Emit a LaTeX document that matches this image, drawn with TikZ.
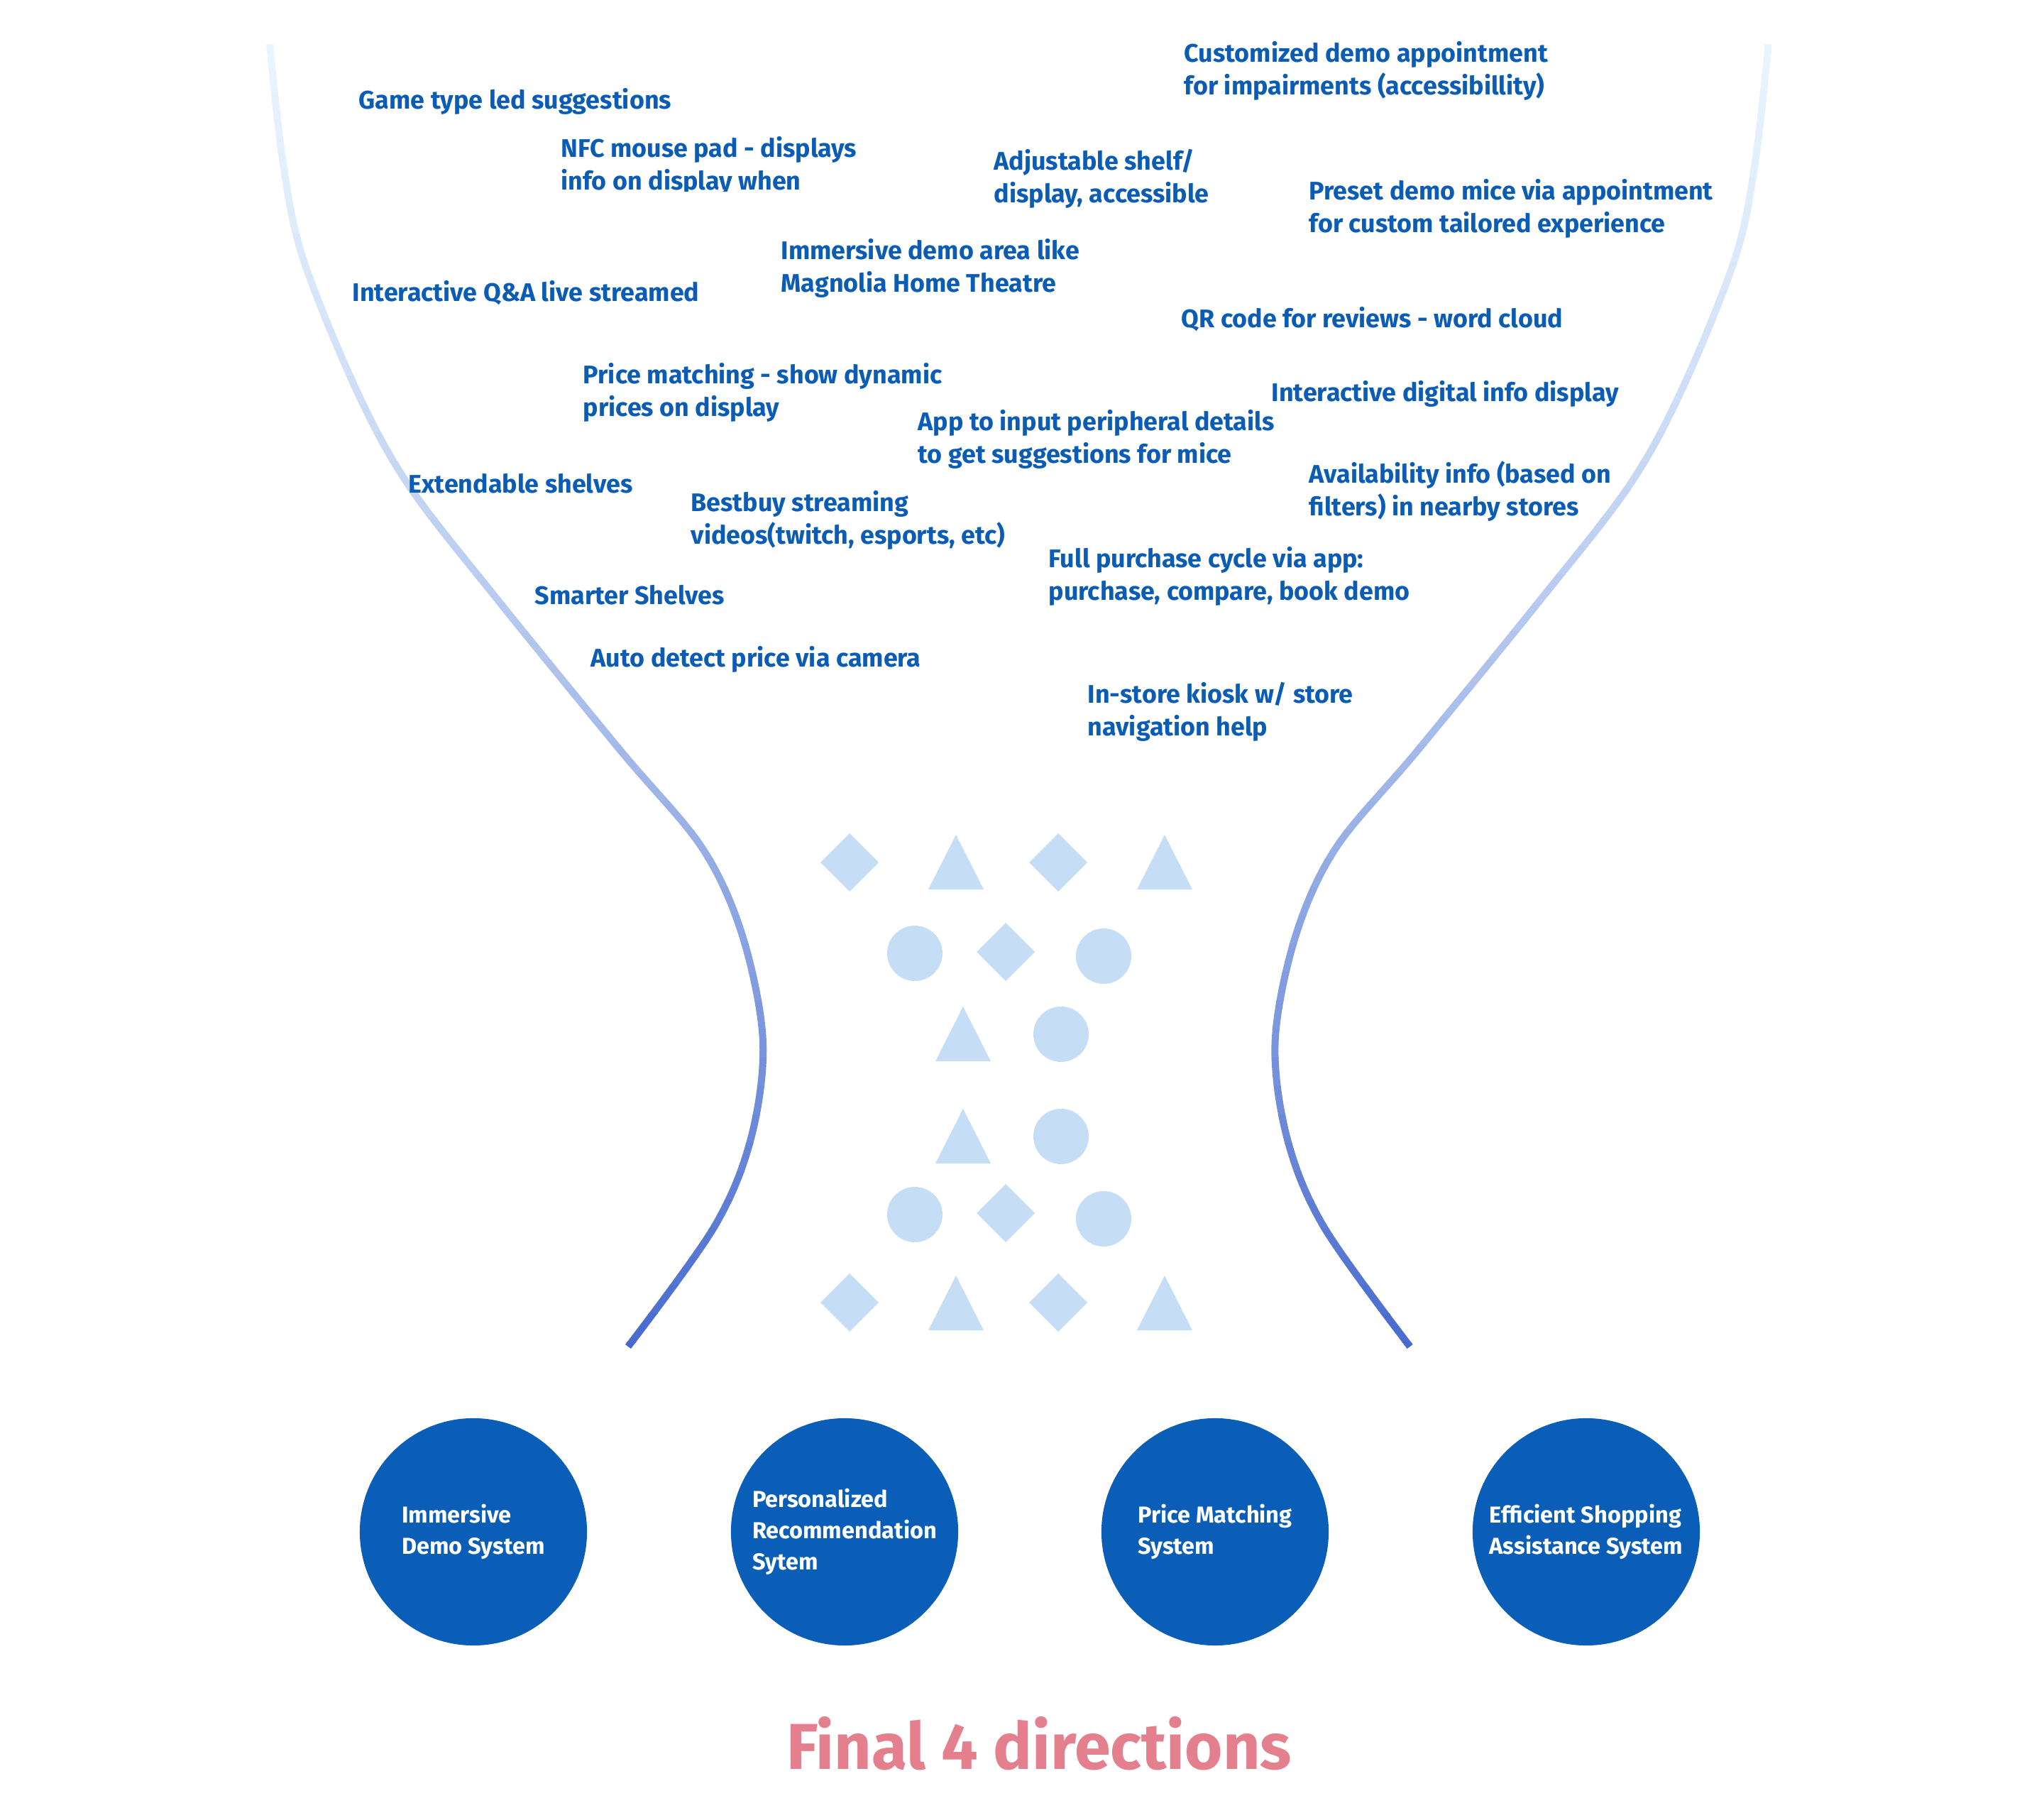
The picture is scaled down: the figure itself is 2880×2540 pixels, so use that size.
\documentclass[tikz,border=0pt]{standalone}
\usepackage{fontspec}
\setmainfont{Fira Sans}
\usetikzlibrary{positioning}

\definecolor{ideablue}{RGB}{11,92,181}
\definecolor{goalblue}{RGB}{10,94,183}
\definecolor{tokenblue}{RGB}{197,222,245}
\definecolor{headpink}{RGB}{228,128,141}

% left wall of the funnel, in pixels of the 2880x2540 page
\newcommand{\funnelpath}{plot[smooth, tension=0.55] coordinates {(380,62) (398,224) (426,361) (501,547) (576,684) (702,846) (874,1057) (989,1194) (1046,1318) (1075,1467) (1058,1604) (1006,1729) (885,1897)}}

\begin{document}
\begin{tikzpicture}[
    x=0.01cm, y=-0.01cm,
    idea/.style={anchor=west, inner sep=0, align=left, text=ideablue, font=\fontsize{10.2}{13}\selectfont\bfseries},
    goal/.style={circle, fill=goalblue, minimum size=3.2cm, inner sep=0, align=left, text=white, font=\fontsize{9.25}{12.5}\selectfont\bfseries},
    headline/.style={text=headpink, font=\fontsize{26}{32}\selectfont\bfseries},
    funnel/.style={line width=0.1cm},
    token/.style={fill=tokenblue}
  ]
    \useasboundingbox (0,0) rectangle (2880,2540);

    % funnel walls, shaded from top to bottom
    \foreach \i in {0,...,46}{
      \pgfmathsetmacro{\ya}{50+\i*40}
      \pgfmathsetmacro{\yb}{\ya+41}
      \pgfmathsetmacro{\t}{(\i/46)^1.4}
      \pgfmathtruncatemacro{\cr}{232-162*\t}
      \pgfmathtruncatemacro{\cg}{244-139*\t}
      \pgfmathtruncatemacro{\cb}{254-48*\t}
      \definecolor{band}{RGB}{\cr,\cg,\cb}
      \begin{scope}
        \clip (0,\ya) rectangle (2880,\yb);
        \draw[funnel, band] \funnelpath;
        \begin{scope}[xshift=28.7cm, xscale=-1]
          \draw[funnel, band] \funnelpath;
        \end{scope}
      \end{scope}
    }

    % ideas
    \node[idea] (game) at (505,143) {Game type led suggestions};
    \begin{scope}
      \clip (700,150) rectangle (1300,270);
      \node[idea] (nfc) at (790,234) {NFC mouse pad - displays\\info on display when};
    \end{scope}
    \node[idea] (custom) at (1668,100) {Customized demo appointment\\for impairments (accessibillity)};
    \node[idea] (shelf) at (1400,252) {Adjustable shelf/\\display, accessible};
    \node[idea] (preset) at (1844,294) {Preset demo mice via appointment\\for custom tailored experience};
    \node[idea] (area) at (1100,378) {Immersive demo area like\\Magnolia Home Theatre};
    \node[idea] (qa) at (496,413) {Interactive Q\&A live streamed};
    \node[idea] (qr) at (1664,450) {QR code for reviews - word cloud};
    \node[idea] (price) at (821,553) {Price matching - show dynamic\\prices on display};
    \node[idea] (digital) at (1791,555) {Interactive digital info display};
    \node[idea] (app) at (1293,619) {App to input peripheral details\\to get suggestions for mice};
    \node[idea] (extend) at (575,681) {Extendable shelves};
    \node[idea] (avail) at (1844,692) {Availability info (based on\\filters) in nearby stores};
    \node[idea] (stream) at (973,733) {Bestbuy streaming\\videos(twitch, esports, etc)};
    \node[idea] (cycle) at (1477,812) {Full purchase cycle via app:\\purchase, compare, book demo};
    \node[idea] (smart) at (753,838) {Smarter Shelves};
    \node[idea] (auto) at (832,929) {Auto detect price via camera};
    \node[idea] (kiosk) at (1532,1003) {In-store kiosk w/ store\\navigation help};

    % tokens in the neck of the funnel
    \foreach \x/\y in {1197/1215, 1491/1215, 1417/1341, 1417/1709, 1197/1835, 1491/1835}
      \fill[token] (\x-41,\y) -- (\x,\y-41) -- (\x+41,\y) -- (\x,\y+41) -- cycle;
    \foreach \x/\y in {1347/1176, 1641/1176, 1357/1418, 1357/1562, 1347/1797, 1641/1797}
      \fill[token] (\x,\y) -- (\x+39,\y+77) -- (\x-39,\y+77) -- cycle;
    \foreach \x/\y in {1289/1343, 1555/1347, 1495/1457, 1495/1601, 1289/1711, 1555/1717}
      \fill[token] (\x,\y) circle[radius=39];

    % final directions
    \node[goal] (demo) at (667,2158) {Immersive\\Demo System};
    \node[goal] (reco) at (1190,2158) {Personalized\\Recommendation\\Sytem};
    \node[goal] (match) at (1712,2158) {Price Matching\\System};
    \node[goal] (assist) at (2235,2158) {Efficient Shopping\\Assistance System};

    \node[headline] (final) at (1464,2456) {Final 4 directions};
  \end{tikzpicture}
\end{document}
